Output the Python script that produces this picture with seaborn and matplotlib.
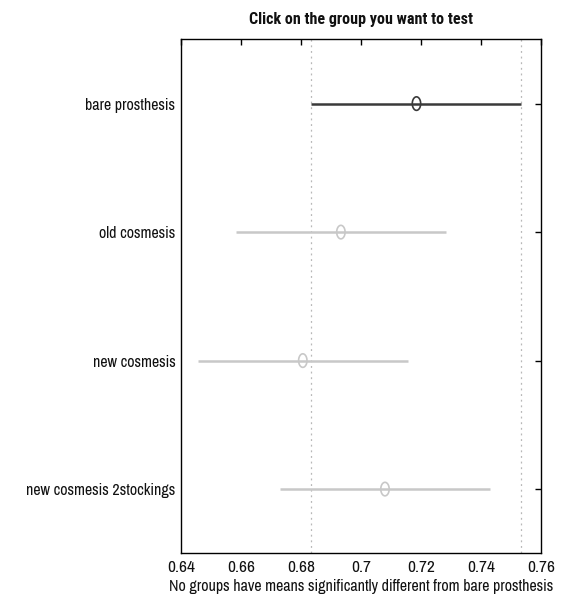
import numpy as np
import pandas as pd
import matplotlib
matplotlib.use("Agg")
import matplotlib.pyplot as plt
from matplotlib.path import Path
import seaborn as sns

# Group estimates and comparison intervals
groups = ["bare prosthesis", "old cosmesis", "new cosmesis", "new cosmesis 2stockings"]
means = [0.7185, 0.6933, 0.6806, 0.7080]
lower = [0.6835, 0.6583, 0.6456, 0.6730]
upper = [0.7535, 0.7283, 0.7156, 0.7430]
selected = "bare prosthesis"

xticks = [0.64, 0.66, 0.68, 0.70, 0.72, 0.74, 0.76]
xtick_labels = ["0.64", "0.66", "0.68", "0.7", "0.72", "0.74", "0.76"]

title = "Click on the group you want to test"
xlabel = "No groups have means significantly different from bare prosthesis"

sns.set_style("white")
plt.rcParams["font.family"] = ["Archivo Narrow", "Roboto Condensed", "DejaVu Sans"]

df = pd.DataFrame({"group": groups, "mean": means, "lower": lower, "upper": upper})
df["pos"] = np.arange(1, len(groups) + 1)
df["color"] = ["#3a3a3a" if g == selected else "#c8c8c8" for g in groups]

fig = plt.figure(figsize=(5.75, 6.11), dpi=100)
ax = fig.add_axes([0.3148, 0.0944, 0.626, 0.8412])

# reference lines at the selected group's interval
sel = df[df["group"] == selected].iloc[0]
for xv in (sel["lower"], sel["upper"]):
    ax.axvline(xv, color="#b8b8b8", linestyle=(0, (1.5, 3)), linewidth=0.9, zorder=1)

# interval lines
ax.hlines(df["pos"], df["lower"], df["upper"], colors=df["color"], linewidth=1.8, zorder=2)

# slightly tall open ellipse for the means
t = np.linspace(0, 2 * np.pi, 41)
ellipse = Path(np.column_stack([0.62 * np.cos(t), np.sin(t)]), closed=True)
for _, row in df.iterrows():
    sns.scatterplot(x=[row["mean"]], y=[row["pos"]], ax=ax, marker=ellipse, s=95,
                    facecolors="none", edgecolors=row["color"], linewidth=1.2, zorder=3)

ax.set_xlim(0.64, 0.76)
ax.set_ylim(4.5, 0.5)
ax.set_xticks(xticks)
ax.set_xticklabels(xtick_labels)
ax.set_yticks(df["pos"])
ax.set_yticklabels(groups)
ax.tick_params(axis="both", direction="in", length=4, width=1, color="black",
               top=True, right=True, labelsize=11.5, labelcolor="#111111")
ax.tick_params(axis="x", pad=5, labelsize=12.5)
ax.tick_params(axis="y", pad=4)
for sp in ax.spines.values():
    sp.set_visible(True)
    sp.set_color("black")
    sp.set_linewidth(1.0)

ax.set_title(title, fontsize=11.6, fontweight="bold", pad=11,
             family=["Roboto Condensed", "DejaVu Sans"], color="#111111")
ax.set_xlabel(xlabel, fontsize=11.5, labelpad=3, color="#111111")
ax.set_ylabel("")

fig.savefig("out.png", dpi=100, facecolor="white")
